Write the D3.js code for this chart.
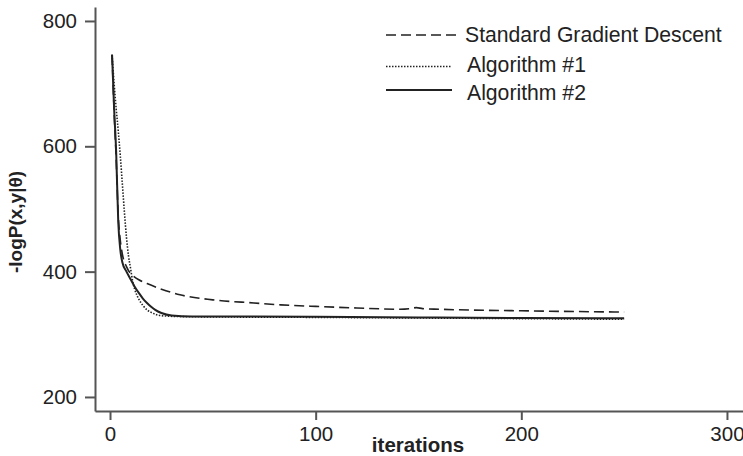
<!DOCTYPE html>
<html>
<head>
<meta charset="utf-8">
<script src="https://cdn.jsdelivr.net/npm/d3@7"></script>
<style>
  body { margin: 0; background: #fff; }
  svg { font-family: "Liberation Sans", Arial, sans-serif; }
</style>
</head>
<body>
<svg></svg>
<script>
let width = 743
let height = 456

// x tick values and y tick values
let xTicks = [0, 100, 200, 300]
let yTicks = [200, 400, 600, 800]

// series: [iteration, -logP]
let standardGD = [[1,746],[2,655],[3,580],[4,490],[5,450],[6,428],[8,408],[10,397],[11,394],[14,387],[18,381],[25,372],[34,363],[50,355],[70,350],[83,347],[100,344.5],[120,342],[141,340],[146,341],[149,342.5],[152,341],[160,340],[200,337.5],[250,335.5]]
let algorithm1 = [[1,746],[2,700],[3,660],[4,625],[5,585],[6,540],[7,495],[8,455],[9,425],[10,405],[11,385],[12,372],[13,363],[14,356],[16,346],[18,339],[20,335],[23,331],[28,329],[40,328],[100,327],[150,326],[200,325],[250,324]]
let algorithm2 = [[1,746],[2,660],[3,590],[4,480],[5,435],[6,415],[8,400],[10,388],[12,376],[14,366],[16,357],[18,350],[20,344],[22,339],[25,334],[30,330],[40,328.5],[100,328],[150,327],[200,326],[250,325.5]]

let seriesNames = ['Standard Gradient Descent', 'Algorithm #1', 'Algorithm #2']
let seriesData = [standardGD, algorithm1, algorithm2]
let seriesDash = ['10,5', '1.5,1.5', null]
let seriesWidth = [1.6, 1.6, 2]

let svg = d3.select('svg')
    .attr('width', width)
    .attr('height', height)

// scales (axis lines run from the corner at 95,411)
let xScale = d3.scaleLinear()
    .domain([-7.3, 307.8])
    .range([95, 743])

let yScale = d3.scaleLinear()
    .domain([177.6, 822.3])
    .range([411, 7])

// axes
let xAxis = d3.axisBottom(xScale)
    .tickValues(xTicks)
    .tickSizeInner(9)
    .tickSizeOuter(0)
    .tickPadding(6)

let gx = svg.append('g')
    .attr('transform', `translate(0, ${yScale.range()[0]})`)
    .call(xAxis)

let yAxis = d3.axisLeft(yScale)
    .tickValues(yTicks)
    .tickSizeInner(10)
    .tickSizeOuter(0)
    .tickPadding(8)

let gy = svg.append('g')
    .attr('transform', `translate(${xScale.range()[0]}, 0)`)
    .call(yAxis)

for (let g of [gx, gy]) {
    g.select('.domain').attr('stroke', '#555').attr('stroke-width', 2)
    g.selectAll('.tick line').attr('stroke', '#555').attr('stroke-width', 2)
    g.selectAll('.tick text')
        .attr('fill', '#222')
        .style('font-size', '20.5px')
        .style('font-family', '"Liberation Sans", Arial, sans-serif')
}

// axis titles
svg.append('text')
    .attr('x', 418)
    .attr('y', 452)
    .attr('text-anchor', 'middle')
    .attr('fill', '#222')
    .style('font-size', '20.5px')
    .style('font-weight', 'bold')
    .text('iterations')

svg.append('text')
    .attr('transform', 'translate(22, 222) rotate(-90)')
    .attr('text-anchor', 'middle')
    .attr('fill', '#222')
    .style('font-size', '19px')
    .style('font-weight', 'bold')
    .text('-logP(x,y|θ)')

// lines
let line = d3.line()
    .x((d) => xScale(d[0]))
    .y((d) => yScale(d[1]))
    .curve(d3.curveMonotoneX)

svg.selectAll('path.series')
    .data(seriesData)
    .enter()
    .append('path')
    .attr('class', 'series')
    .attr('d', line)
    .attr('fill', 'none')
    .attr('stroke', '#222')
    .attr('stroke-width', (d, i) => seriesWidth[i])
    .attr('stroke-dasharray', (d, i) => seriesDash[i])

// legend
let legendY = [35, 66.5, 90]
let legendTextY = [35, 65, 93]
let legend = svg.selectAll('g.legend')
    .data(seriesNames)
    .enter()
    .append('g')
    .attr('class', 'legend')

legend.append('line')
    .attr('x1', 386)
    .attr('x2', (d, i) => i == 0 ? 457 : 452)
    .attr('y1', (d, i) => legendY[i])
    .attr('y2', (d, i) => legendY[i])
    .attr('stroke', '#222')
    .attr('stroke-width', (d, i) => seriesWidth[i])
    .attr('stroke-dasharray', (d, i) => seriesDash[i])

legend.append('text')
    .attr('x', (d, i) => i == 0 ? 465 : 467)
    .attr('y', (d, i) => legendTextY[i])
    .attr('dy', '0.35em')
    .attr('fill', '#222')
    .style('font-size', '21.2px')
    .text((d) => d)
</script>
</body>
</html>
